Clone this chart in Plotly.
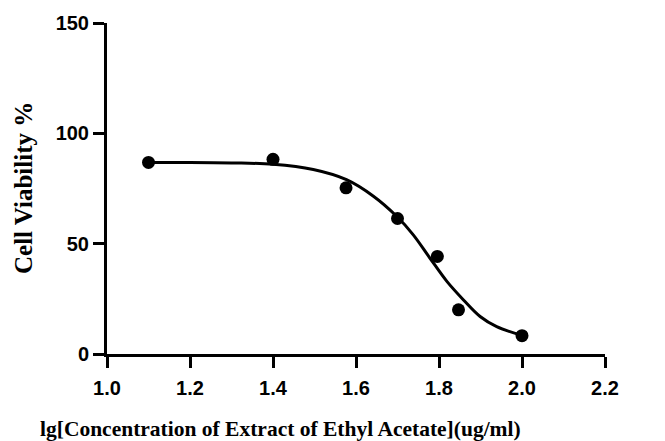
import plotly.graph_objects as go

# measured points
log_conc = [1.10, 1.40, 1.576, 1.70, 1.796, 1.847, 2.00]
viability = [86.8, 88.2, 75.3, 61.4, 44.2, 20.0, 8.3]

# fitted curve
curve_x = [1.10, 1.20, 1.30, 1.40, 1.497, 1.577, 1.642, 1.698, 1.738, 1.778,
           1.819, 1.859, 1.899, 1.939, 2.00]
curve_y = [86.8, 86.8, 86.6, 86.0, 83.6, 79.0, 71.5, 62.4, 54.0, 43.5,
           32.9, 24.5, 17.0, 12.4, 8.4]

x_ticks = [1.0, 1.2, 1.4, 1.6, 1.8, 2.0, 2.2]
y_ticks = [0, 50, 100, 150]

W, H = 665, 441
L, R, T, B = 107, 60, 23, 87

fig = go.Figure()
fig.add_trace(go.Scatter(x=curve_x, y=curve_y, mode="lines",
                         line=dict(color="black", width=3, shape="spline"),
                         showlegend=False))
fig.add_trace(go.Scatter(x=log_conc, y=viability, mode="markers",
                         marker=dict(color="black", size=13),
                         showlegend=False))

tickfont = dict(family="Liberation Sans, Arial", size=20, color="black", weight="bold")
pw = W - L - R
ph = H - T - B


def px_to_paper(px, py):
    return (px - L) / pw, (H - py - B) / ph


xt = px_to_paper(280, 429)
yt = px_to_paper(23, 188)

fig.update_layout(
    width=W, height=H,
    margin=dict(l=L, r=R, t=T, b=B),
    paper_bgcolor="white", plot_bgcolor="white",
    xaxis=dict(range=[1.0, 2.2], tickvals=x_ticks,
               ticktext=[f"{v:.1f}" for v in x_ticks],
               showline=True, linecolor="black", linewidth=3,
               ticks="outside", ticklen=11, tickwidth=3, tickcolor="black",
               ticklabelstandoff=3,
               showgrid=False, zeroline=False, tickfont=tickfont),
    yaxis=dict(range=[0, 150], tickvals=y_ticks,
               showline=True, linecolor="black", linewidth=3,
               ticks="outside", ticklen=11, tickwidth=3, tickcolor="black",
               showgrid=False, zeroline=False, tickfont=tickfont),
    annotations=[
        dict(text="<b>lg[Concentration of Extract of Ethyl Acetate](ug/ml)</b>",
             x=xt[0], y=xt[1], xref="paper", yref="paper", showarrow=False,
             xanchor="center", yanchor="middle",
             font=dict(family="Liberation Serif, Times New Roman", size=21.5, color="black")),
        dict(text="<b>Cell Viability %</b>", textangle=-90,
             x=yt[0], y=yt[1], xref="paper", yref="paper", showarrow=False,
             xanchor="center", yanchor="middle",
             font=dict(family="Liberation Serif, Times New Roman", size=25, color="black")),
    ],
)

fig.write_html("out.html", config={"displayModeBar": False},
               post_script="document.body.style.margin='0';")
